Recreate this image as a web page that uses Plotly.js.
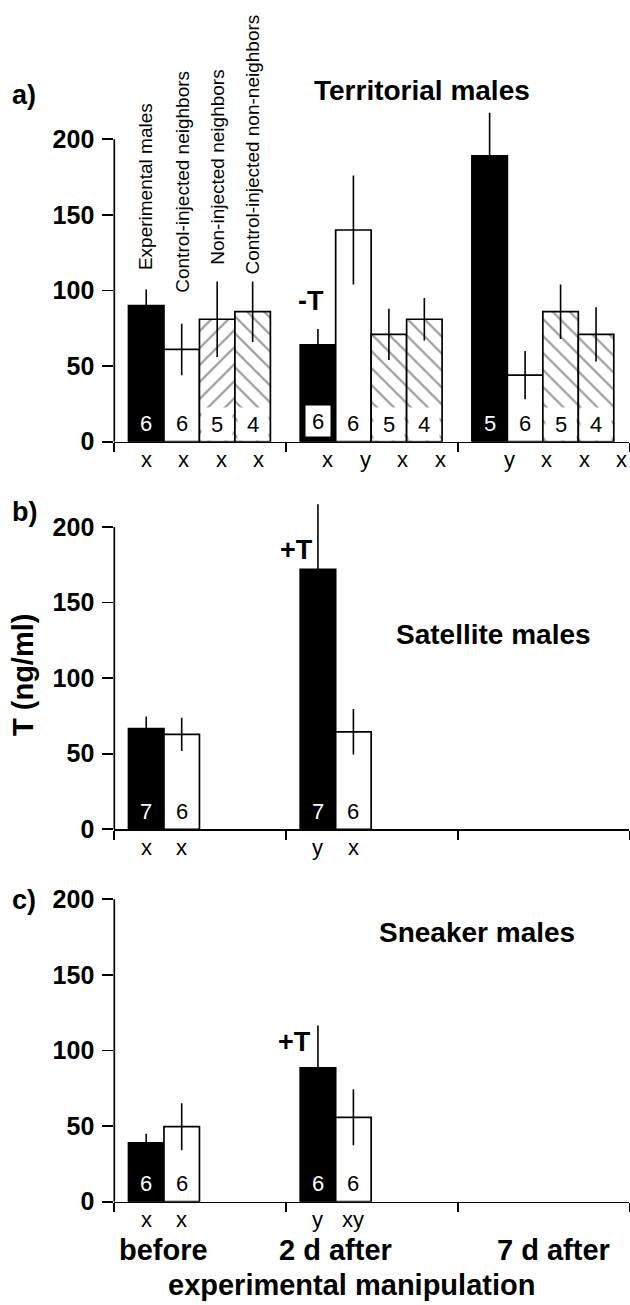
<!DOCTYPE html>
<html>
<head>
<meta charset="utf-8">
<script src="https://cdn.plot.ly/plotly-3.0.1.min.js"></script>
<style>html,body{margin:0;padding:0;background:#fff;}#chart{width:630px;height:1305px;}</style>
</head>
<body>
<div id="chart"></div>
<script>
// ---------------- DATA ----------------
const groups = ['before', '2 d after', '7 d after'];
const terrSeries = ['Experimental males', 'Control-injected neighbors', 'Non-injected neighbors', 'Control-injected non-neighbors'];

// Territorial males (4 bars per group, groups: before, 2 d after, 7 d after)
const terrMean    = [90, 61, 81, 86,   64, 140, 71, 81,   189, 44, 86, 71];
const terrSE      = [10.7, 17, 25, 20, 10.5, 36, 17, 14,  28.6, 16, 18, 18];
const terrN       = [6, 6, 5, 4,       6, 6, 5, 4,        5, 6, 5, 4];
const terrLetters = ['x','x','x','x',  'x','y','x','x',   'y','x','x','x'];

// Satellite males (2 bars per group: experimental, control-injected; before & 2 d after)
const satMean    = [66.6, 62.8, 171.9, 64.5];
const satSE      = [8, 11, 43, 15];
const satN       = [7, 6, 7, 6];
const satLetters = ['x', 'x', 'y', 'x'];

// Sneaker males
const snkMean    = [39, 49.6, 88.5, 55.8];
const snkSE      = [6, 15.5, 28, 18.5];
const snkN       = [6, 6, 6, 6];
const snkLetters = ['x', 'x', 'y', 'xy'];

// ---------------- LAYOUT GEOMETRY ----------------
const W = 630, H = 1305;
const X0 = 114.3, X1 = 629.4;          // x-axis pixel extent
const GROUPW = 4.84;                   // group width in bar units
const XMAX = GROUPW * 3;
const PXU = 1.512;                     // pixels per ng/ml
const YMAX = 230;
const base = [441.7, 829.3, 1201.7];   // pixel row of y=0 per panel
const FONT = 'Liberation Sans, Arial, sans-serif';

const px2x = p => p / W;
const px2y = p => 1 - p / H;
function barX(g, i) { return g * GROUPW + 0.9 + i; }
const unitPx = (X1 - X0) / XMAX;

const data = [];
const annotations = [];
const shapes = [];

function styleOf(g, i, slashFirst) {
  if (i === 0) return 'black';
  if (i === 1) return 'white';
  if (slashFirst && g === 0 && i === 2) return 'slash';
  return 'back';
}

function addPanel(k, mean, se, nArr, letters, perGroup, opts) {
  const xa = k === 0 ? 'x' : 'x' + (k + 1);
  const ya = k === 0 ? 'y' : 'y' + (k + 1);
  const buckets = {};
  const xs = [];
  mean.forEach((v, j) => {
    const g = Math.floor(j / perGroup), i = j % perGroup;
    const x = barX(g, i);
    xs.push(x);
    const s = styleOf(g, i, opts.slashFirst);
    if (!buckets[s]) buckets[s] = {x: [], y: [], e: []};
    buckets[s].x.push(x); buckets[s].y.push(v); buckets[s].e.push(se[j]);
  });
  Object.keys(buckets).forEach(s => {
    const b = buckets[s];
    const marker = {color: s === 'black' ? '#000' : '#fff', line: {color: '#000', width: 1.7}};
    if (s === 'slash' || s === 'back') {
      marker.pattern = {shape: s === 'slash' ? '/' : '\\', fgcolor: '#333', bgcolor: '#fff',
                        fillmode: 'overlay', size: 12, solidity: 0.18};
    }
    data.push({
      type: 'bar', x: b.x, y: b.y, xaxis: xa, yaxis: ya, width: 1, marker: marker,
      error_y: {type: 'data', array: b.e, visible: true, color: '#000', thickness: 1.6, width: 0},
      hoverinfo: 'none', showlegend: false
    });
  });
  // n labels + letters
  xs.forEach((x, j) => {
    const i = j % perGroup, g = Math.floor(j / perGroup);
    const isBlack = i === 0;
    const boxed = opts.boxed && opts.boxed(g, i);
    const hatched = i >= 2;
    const a = {
      x: x, y: 0, xref: xa, yref: ya, text: String(nArr[j]), showarrow: false,
      yanchor: 'middle', xanchor: 'center', yshift: 18,
      font: {family: FONT, size: 22, color: (isBlack && !boxed) ? '#fff' : '#000'}
    };
    if (boxed) { a.bgcolor = '#fff'; a.width = 24; a.height = 30; a.borderpad = 0; a.yshift = 21; }
    if (hatched) { a.bgcolor = '#fff'; a.width = 30; a.height = 32; a.borderpad = 0; a.yshift = 17.5; }
    annotations.push(a);
    const xpx = x * unitPx;
    annotations.push({
      x: x, y: 0, xref: xa, yref: ya, text: letters[j], showarrow: false,
      yanchor: 'middle', xanchor: 'center', yshift: -18,
      xshift: opts.drift ? 0.058 * xpx - 2 : 0,
      font: {family: FONT, size: 22, color: '#000'}
    });
  });
  // y axis line 0..200
  shapes.push({type: 'line', xref: 'paper', yref: ya, x0: px2x(X0), x1: px2x(X0), y0: 0, y1: 200,
               line: {color: '#000', width: 1.7}, layer: 'above'});
}

addPanel(0, terrMean, terrSE, terrN, terrLetters, 4, {slashFirst: true, drift: true, boxed: (g, i) => g === 1 && i === 0});
addPanel(1, satMean, satSE, satN, satLetters, 2, {});
addPanel(2, snkMean, snkSE, snkN, snkLetters, 2, {});

// rotated series labels (panel a)
const rotLabelBottom = [112, 97, 115.5, 109];
terrSeries.forEach((s, i) => {
  annotations.push({
    x: barX(0, i), y: rotLabelBottom[i], xref: 'x', yref: 'y', text: s, showarrow: false,
    textangle: -90, xanchor: 'center', yanchor: 'bottom',
    font: {family: FONT, size: 19, color: '#000'}
  });
});

function paperText(text, xp, yp, size, bold, extra) {
  annotations.push(Object.assign({
    x: px2x(xp), y: px2y(yp), xref: 'paper', yref: 'paper', text: text, showarrow: false,
    xanchor: 'center', yanchor: 'middle',
    font: {family: FONT, size: size, color: '#000', weight: bold ? 'bold' : 'normal'}
  }, extra || {}));
}
paperText('a)', 24, 95, 27, true);
paperText('b)', 24, 512, 27, true);
paperText('c)', 24, 900, 27, true);
paperText('Territorial males', 422, 91, 28, true);
paperText('Satellite males', 493, 634, 28, true);
paperText('Sneaker males', 477, 933, 28, true);
paperText('T (ng/ml)', 23, 675, 29, true, {textangle: -90});
paperText('-T', 311, 301, 27, true);
paperText('+T', 296, 550, 27, true);
paperText('+T', 294, 1042, 27, true);

// group labels under bottom panel
groups.forEach((gname, g) => {
  const cx = g < 2 ? (barX(g, 0) + barX(g, 1)) / 2 : g * GROUPW + GROUPW / 2;
  annotations.push({
    x: cx, y: px2y(1250), xref: 'x3', yref: 'paper', text: gname, showarrow: false,
    xanchor: 'center', yanchor: 'middle', xshift: g === 2 ? 10 : 0,
    font: {family: FONT, size: 29, color: '#000', weight: 'bold'}
  });
});
paperText('experimental manipulation', 351, 1285, 29, true);

function xAxis(k) {
  return {
    domain: [px2x(X0), px2x(X1)], range: [0, XMAX], anchor: k === 0 ? 'y' : 'y' + (k + 1),
    showgrid: false, zeroline: false, showline: true, linecolor: '#000', linewidth: 1.7,
    ticks: 'outside', tickvals: [0, GROUPW, 2 * GROUPW, 3 * GROUPW], ticklen: 9, tickwidth: 1.7,
    tickcolor: '#000', showticklabels: false, fixedrange: true
  };
}
function yAxis(k) {
  const b = base[k];
  return {
    domain: [px2y(b), px2y(b - YMAX * PXU)], range: [0, YMAX], anchor: k === 0 ? 'x' : 'x' + (k + 1),
    showgrid: false, zeroline: false, showline: false,
    ticks: 'outside', tickvals: [0, 50, 100, 150, 200], ticklen: 11, tickwidth: 1.7, tickcolor: '#000',
    ticklabelstandoff: 3,
    tickfont: {family: FONT, size: 25, color: '#000', weight: 'bold'}, fixedrange: true
  };
}

const layout = {
  width: W, height: H, margin: {l: 0, r: 0, t: 0, b: 0},
  paper_bgcolor: '#fff', plot_bgcolor: 'rgba(0,0,0,0)', showlegend: false, barmode: 'overlay',
  xaxis: xAxis(0), yaxis: yAxis(0),
  xaxis2: xAxis(1), yaxis2: yAxis(1),
  xaxis3: xAxis(2), yaxis3: yAxis(2),
  annotations: annotations, shapes: shapes
};

Plotly.newPlot('chart', data, layout, {displayModeBar: false, staticPlot: true});
</script>
</body>
</html>
